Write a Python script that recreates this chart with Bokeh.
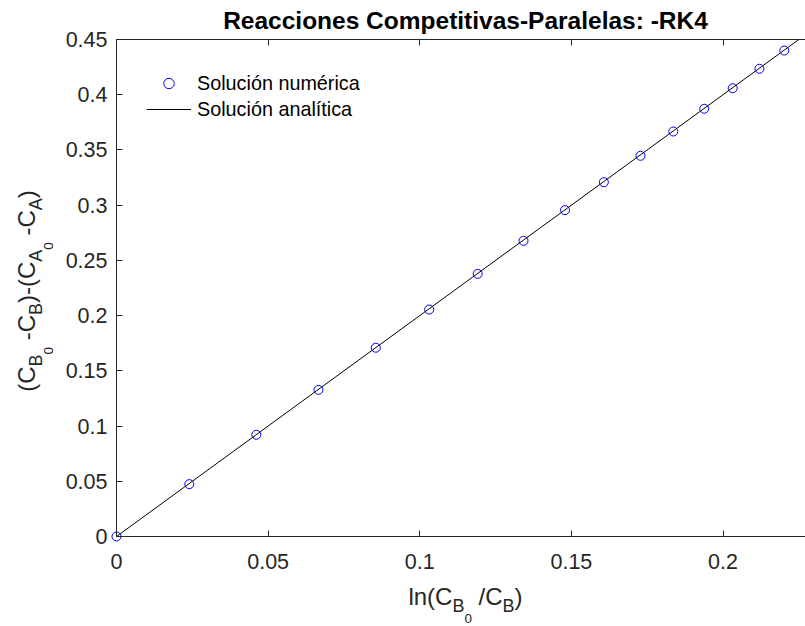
from bokeh.plotting import figure
from bokeh.models import Range1d, FixedTicker, LinearAxis, Label, BoxAnnotation
from bokeh.embed import file_html
from bokeh.resources import INLINE
import math

# Numerical (RK4) results: ln(CB0/CB) vs (CB0-CB)-(CA0-CA)
ln_ratio = [0.0, 0.0240, 0.0461, 0.0666, 0.0855, 0.1031, 0.1191, 0.1342,
            0.1479, 0.1607, 0.1728, 0.1836, 0.1938, 0.2032, 0.2120, 0.2202]
conc_diff = [0.0, 0.0474, 0.0921, 0.1328, 0.1709, 0.2055, 0.2378, 0.2677,
             0.2955, 0.3208, 0.3447, 0.3667, 0.3873, 0.4059, 0.4235, 0.4400]

# Analytical solution (straight line through the origin)
analytic_x = [0.0, 0.225]
analytic_y = [0.0, 0.45]

x_ticks = [0, 0.05, 0.1, 0.15, 0.2]
x_tick_labels = ["0", "0.05", "0.1", "0.15", "0.2"]
y_ticks = [0, 0.05, 0.1, 0.15, 0.2, 0.25, 0.3, 0.35, 0.4, 0.45]
y_tick_labels = ["0", "0.05", "0.1", "0.15", "0.2", "0.25", "0.3", "0.35", "0.4", "0.45"]

X_MAX, Y_MAX = 0.2272, 0.45

FONT = "Liberation Sans"
AX_COLOR = "#262626"
GRID_COLOR = "#e2e2e2"

W, H = 805, 626
# axes box in canvas pixels
BOX_LEFT, BOX_TOP, BOX_BOTTOM = 116, 39, 536
XSCALE = (W - BOX_LEFT) / X_MAX
YSCALE = (BOX_BOTTOM - BOX_TOP) / Y_MAX

# The frame covers the whole canvas; the axes are pinned at fixed data locations
x_rng = Range1d(-BOX_LEFT / XSCALE, X_MAX)
y_rng = Range1d(-(H - BOX_BOTTOM) / YSCALE, Y_MAX + BOX_TOP / YSCALE)

p = figure(width=W, height=H, output_backend="svg", toolbar_location=None,
           x_range=x_rng, y_range=y_rng, x_axis_type=None, y_axis_type=None,
           min_border=0)
p.outline_line_color = None
p.background_fill_color = "white"
p.border_fill_color = "white"

xt = FixedTicker(ticks=x_ticks)
yt = FixedTicker(ticks=y_ticks)


def make_axis(ticker, labels, loc, bounds, standoff):
    ax = LinearAxis(ticker=ticker, fixed_location=loc, bounds=bounds,
                    axis_line_color=AX_COLOR, major_tick_line_color=AX_COLOR,
                    major_tick_in=6, major_tick_out=0, minor_tick_line_color=None,
                    major_label_standoff=standoff)
    if labels is None:
        ax.major_label_text_color = None
    else:
        ax.major_label_overrides = {t: s for t, s in zip(ticker.ticks, labels)}
        ax.major_label_text_font = FONT
        ax.major_label_text_font_size = "21.5px"
        ax.major_label_text_color = AX_COLOR
    return ax


p.add_layout(make_axis(xt, x_tick_labels, 0, (0, X_MAX), 17), "below")
p.add_layout(make_axis(yt, y_tick_labels, 0, (0, Y_MAX), 9), "left")
p.add_layout(make_axis(FixedTicker(ticks=x_ticks), None, Y_MAX, (0, X_MAX), 0), "above")

# grid lines, trimmed to the axes box by white covers
p.xgrid.grid_line_color = GRID_COLOR
p.ygrid.grid_line_color = GRID_COLOR
for ax_grid, tk in ((p.xgrid, xt), (p.ygrid, yt)):
    ax_grid.ticker = tk
for kw in (dict(right=0), dict(top=0), dict(bottom=Y_MAX)):
    p.add_layout(BoxAnnotation(fill_color="white", fill_alpha=1, line_color=None,
                               level="underlay", **kw))

p.scatter(ln_ratio, conc_diff, marker="circle", size=9, fill_color=None,
          line_color="#0000ff", line_width=1, legend_label="Solución numérica")
p.line(analytic_x, analytic_y, line_color="black", line_width=1,
       legend_label="Solución analítica")

lg = p.legend[0]
lg.location = (146, H - 122)
lg.background_fill_color = "white"
lg.background_fill_alpha = 1
lg.border_line_color = None
lg.label_text_font = FONT
lg.label_text_font_size = "19.8px"
lg.label_text_color = "black"
lg.glyph_width = 45
lg.glyph_height = 26
lg.label_height = 26
lg.label_standoff = 6
lg.spacing = 0
lg.padding = 5
lg.margin = 0

# the renderer places "alphabetic" text a bit low; lift it by this fraction of the size
BASELINE_FIX = 0.375

TITLE_SIZE = 24.5
p.add_layout(Label(x=465, y=H - 29 + BASELINE_FIX * TITLE_SIZE, x_units="screen",
                   y_units="screen", text="Reacciones Competitivas-Paralelas: -RK4",
                   text_font=FONT, text_font_size=f"{TITLE_SIZE}px",
                   text_font_style="bold", text_color="black",
                   text_align="center", text_baseline="alphabetic"))

# Axis labels with TeX-like subscripts, laid out piece by piece
HELV = {"l": 222, "n": 556, "(": 333, ")": 333, "C": 722, "B": 667, "A": 667,
        "0": 556, "/": 278, " ": 278, "-": 333}
SIZES = [24, 18, 13.5]
SHIFTS = [0, 7, 18]


def seg_width(text, level):
    return sum(HELV[c] for c in text) / 1000.0 * SIZES[level]


def add_math_label(segments, center, baseline, vertical):
    total = sum(seg_width(t, lv) for t, lv in segments)
    pos = center - total / 2.0
    for t, lv in segments:
        shown = t.lstrip(" ")
        pos += seg_width(t[:len(t) - len(shown)], lv)
        down = SHIFTS[lv] - BASELINE_FIX * SIZES[lv]
        if vertical:
            x, y, ang = baseline + down, pos, math.pi / 2
        else:
            x, y, ang = pos, baseline - down, 0
        p.add_layout(Label(x=x, y=y, x_units="screen", y_units="screen", text=shown,
                           angle=ang, text_font=FONT, text_font_size=f"{SIZES[lv]}px",
                           text_color=AX_COLOR, text_align="left",
                           text_baseline="alphabetic"))
        pos += seg_width(shown, lv)


xlabel = [("ln(C", 0), ("B", 1), ("0", 2), (" /C", 0), ("B", 1), (")", 0)]
ylabel = [("(C", 0), ("B", 1), ("0", 2), (" -C", 0), ("B", 1), (")-(C", 0),
          ("A", 1), ("0", 2), (" -C", 0), ("A", 1), (")", 0)]

add_math_label(xlabel, center=465, baseline=H - 605, vertical=False)
add_math_label(ylabel, center=H - 290.5, baseline=35, vertical=True)

open("out.html", "w").write(file_html(p, INLINE))
